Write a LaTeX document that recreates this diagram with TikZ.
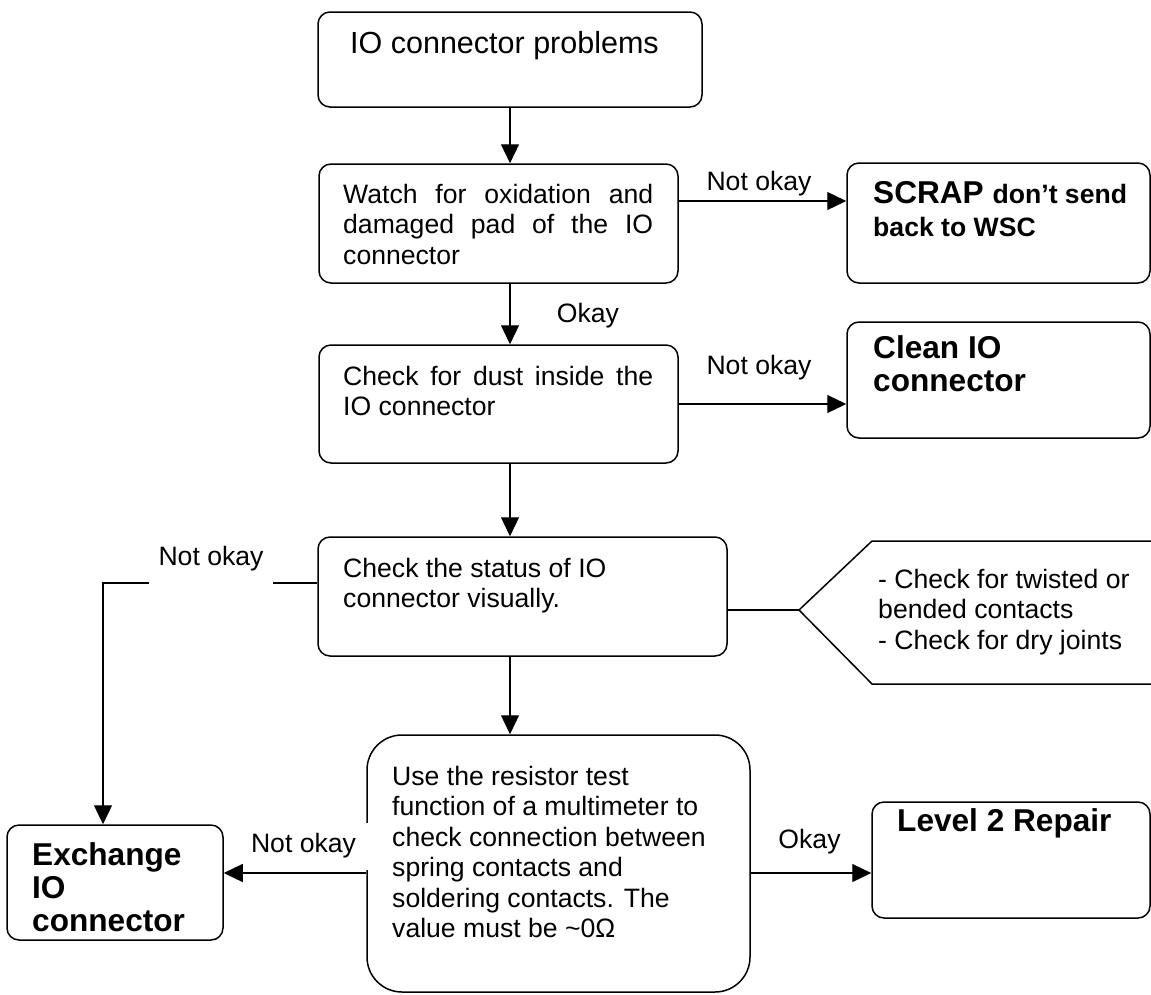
\documentclass[tikz,border=0pt]{standalone}
\usepackage{fontspec}
\setmainfont{Liberation Sans}
\usetikzlibrary{arrows.meta,positioning}

\tolerance=9999
\newcommand{\bodyfont}{\fontsize{26.6}{30.5}\selectfont}
\newcommand{\titlefont}{\fontsize{30.5}{35}\selectfont}
\newcommand{\boldfont}{\fontsize{31.6}{33}\selectfont\bfseries}
\newcommand{\zeilen}[1]{\begin{tabular}[t]{@{}l@{}}#1\end{tabular}}

\tikzset{
  kasten/.style={draw, line width=1.5pt, rounded corners=12pt, inner sep=0pt},
  txt/.style={inner sep=0pt, anchor=base west, font=\bodyfont},
  pfeil/.style={line width=1.2pt, -{Triangle[length=19pt,width=18pt]}},
  linie/.style={line width=1.2pt},
  marke/.style={font=\bodyfont, inner sep=0pt, anchor=base},
}

\begin{document}
\begin{tikzpicture}[x=1pt, y=-1pt]
    \useasboundingbox (0,0) rectangle (1151,994);
    \coordinate (spine) at (510,0);

    % Start
    \node[kasten, minimum width=384pt, minimum height=95pt] (start) at (510,59.5) {};
    \node[txt, font=\titlefont] (start-t) at (350,53) {IO connector problems};

    % Oxidation
    \node[kasten, minimum width=359pt, minimum height=119pt] (watch) at (498.5,223.5) {};
    \node[txt] (watch-t) at (343,203) {\parbox[t]{310pt}{Watch for oxidation and damaged pad of the IO connector}};
    \node[kasten, minimum width=303pt, minimum height=120pt] (scrap) at (998.5,223) {};
    \node[txt, font=\boldfont] (scrap-t) at (873,203) {\zeilen{SCRAP {\bodyfont\bfseries don't send}\\{\bodyfont\bfseries back to WSC}}};

    % Staub
    \node[kasten, minimum width=359pt, minimum height=118pt] (dust) at (498.5,404) {};
    \node[txt] (dust-t) at (343,385) {\parbox[t]{310pt}{Check for dust inside the IO connector}};
    \node[kasten, minimum width=303pt, minimum height=116pt] (clean) at (998.5,380) {};
    \node[txt, font=\boldfont] (clean-t) at (873,358) {\zeilen{Clean IO\\connector}};

    % Sichtpruefung
    \node[kasten, minimum width=409pt, minimum height=119pt] (status) at (522.5,596.5) {};
    \node[txt] (status-t) at (343,577) {\zeilen{Check the status of IO\\connector visually.}};
    \coordinate (tip) at (799,610);
    \draw[line width=1.5pt] (1170,541) -- (872,541) -- (tip) -- (872,684) -- (1170,684);
    \node[txt] (hint-t) at (878,588) {\zeilen{- Check for twisted or\\bended contacts\\- Check for dry joints}};

    % Widerstandstest
    \node[kasten, rounded corners=35pt, minimum width=383pt, minimum height=257pt] (resist) at (558.5,863.5) {};
    \node[txt] (resist-t) at (392,785) {\zeilen{Use the resistor test\\function of a multimeter to\\check connection between\\spring contacts and\\soldering contacts. The\\value must be \textasciitilde 0Ω}};
    \node[kasten, minimum width=216pt, minimum height=115pt] (exchange) at (115,882.5) {};
    \node[txt, font=\boldfont] (exchange-t) at (32,865) {\zeilen{Exchange\\IO\\connector}};
    \node[kasten, minimum width=278pt, minimum height=116pt] (level) at (1011,860) {};
    \node[txt, font=\boldfont] (level-t) at (897,831) {Level 2 Repair};

    % Pfeile
    \draw[pfeil] (start.south -| spine) -- (watch.north -| spine);
    \draw[pfeil] (watch.south -| spine) -- (dust.north -| spine);
    \draw[pfeil] (dust.south -| spine) -- (status.north -| spine);
    \draw[pfeil] (status.south -| spine) -- (resist.north -| spine);
    \coordinate (w-out) at ([yshift=22.5pt]watch.east);
    \draw[pfeil] (w-out) -- (w-out -| scrap.west);
    \draw[pfeil] (dust.east) -- (dust.east -| clean.west);
    \coordinate (s-out) at ([yshift=-13.5pt]status.east);
    \draw[linie] (s-out) -- (tip);
    \coordinate (s-left) at ([yshift=13.5pt]status.west);
    \draw[pfeil] (s-left) -| ([xshift=-12pt]exchange.north);
    \coordinate (r-out) at ([yshift=-9.5pt]resist.west);
    \coordinate (r-in) at ([yshift=-9.5pt]resist.east);
    \draw[pfeil] (r-in) -- (r-in -| level.west);

    % Beschriftungen
    \node[marke] (l-scrap) at (759,190) {Not okay};
    \node[marke] (l-dust-ok) at (588,322) {Okay};
    \node[marke] (l-clean) at (759,374) {Not okay};
    \node[marke, fill=white, inner xsep=10pt, text depth=25pt] (l-status) at (211,565) {Not okay};
    \node[marke, fill=white, inner xsep=13pt, text height=29pt, text depth=18pt] (l-resist) at (303.5,852) {Not okay};
    \draw[pfeil] (r-out) -- (r-out -| exchange.east);
    \node[marke] (l-level) at (809.5,848) {Okay};
\end{tikzpicture}
\end{document}
